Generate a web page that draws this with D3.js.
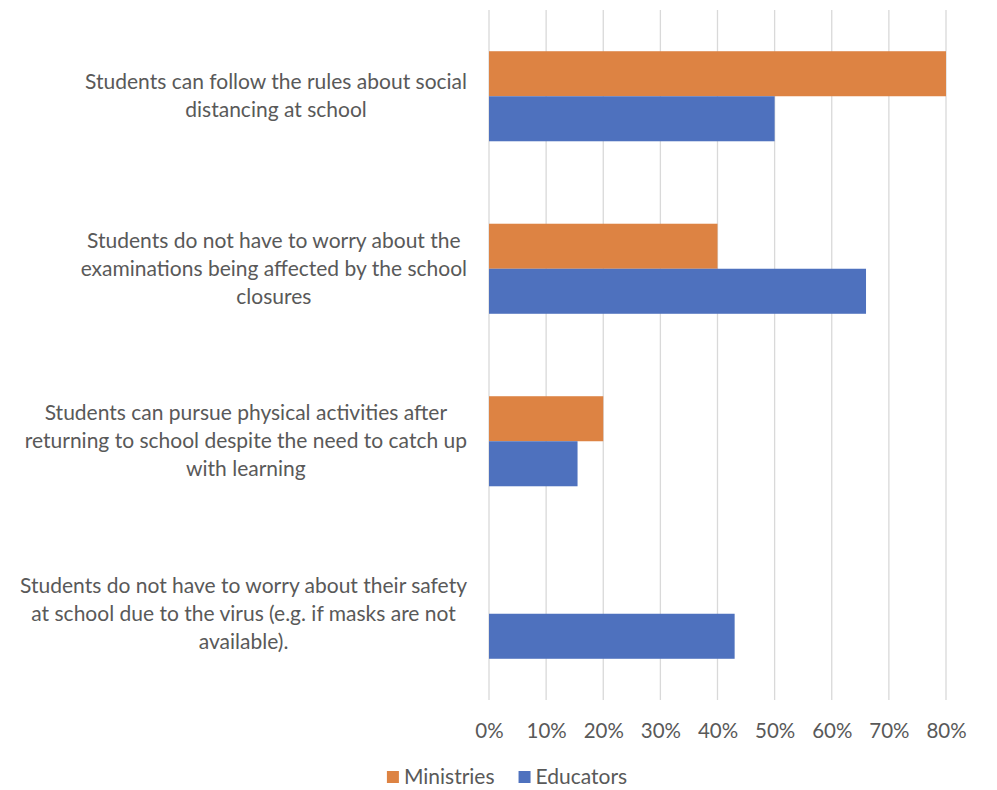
<!DOCTYPE html>
<html>
<head>
<meta charset="utf-8">
<script src="https://cdn.jsdelivr.net/npm/d3@7"></script>
<style>
  html, body { margin: 0; padding: 0; background: #fff; }
  svg { display: block; }
  text { font-family: Lato, "Open Sans", sans-serif; fill: #595959; }
</style>
</head>
<body>
<svg id="chart" width="997" height="790"></svg>
<script>
// Survey statements, wrapped as they appear on the axis
const categories = [
  ["Students can follow the rules about social", "distancing at school"],
  ["Students do not have to worry about the", "examinations being affected by the school", "closures"],
  ["Students can pursue physical activities after", "returning to school despite the need to catch up", "with learning"],
  ["Students do not have to worry about their safety", "at school due to the virus (e.g. if masks are not", "available)."]
];
const seriesNames = ["Ministries", "Educators"];
const ministries = [0.80, 0.40, 0.20, 0.00];
const educators  = [0.50, 0.66, 0.155, 0.43];
const xTicks = [0, 0.1, 0.2, 0.3, 0.4, 0.5, 0.6, 0.7, 0.8];

const colors = { Ministries: "#DD8343", Educators: "#4E71BE" };

const W = 997, H = 790;
const margin = { top: 10, right: 51, bottom: 90, left: 489 };
const svg = d3.select("#chart");

const x = d3.scaleLinear()
  .domain([0, 0.8])
  .range([margin.left, W - margin.right]);

const y = d3.scaleBand()
  .domain(d3.range(categories.length))
  .range([margin.top, H - margin.bottom])
  .paddingInner(0.478)
  .paddingOuter(0.239);

const ySub = d3.scaleBand()
  .domain(seriesNames)
  .range([0, y.bandwidth()]);

// Vertical gridlines
svg.append("g")
  .selectAll("line")
  .data(xTicks)
  .join("line")
  .attr("x1", d => x(d)).attr("x2", d => x(d))
  .attr("y1", margin.top).attr("y2", H - margin.bottom)
  .attr("stroke", "#d9d9d9")
  .attr("stroke-width", 1.3);

// Bars
const rows = categories.map((c, i) => ({
  i,
  values: [
    { name: "Ministries", value: ministries[i] },
    { name: "Educators", value: educators[i] }
  ]
}));

svg.append("g")
  .selectAll("g")
  .data(rows)
  .join("g")
  .attr("transform", d => `translate(0,${y(d.i)})`)
  .selectAll("rect")
  .data(d => d.values)
  .join("rect")
  .attr("x", x(0))
  .attr("y", d => ySub(d.name))
  .attr("width", d => x(d.value) - x(0))
  .attr("height", ySub.bandwidth())
  .attr("fill", d => colors[d.name]);

// X axis tick labels
const xAxis = d3.axisBottom(x)
  .tickValues(xTicks)
  .tickFormat(d3.format(".0%"))
  .tickSize(0)
  .tickPadding(0);

const gx = svg.append("g")
  .attr("transform", `translate(0,${H - margin.bottom})`)
  .call(xAxis);
gx.select(".domain").remove();
gx.selectAll("text")
  .attr("dy", null)
  .attr("y", 38)
  .style("font-size", "20.5px")
  .style("fill", "#595959")
  .style("font-family", "Lato, 'Open Sans', sans-serif");

// Category labels: each block right-aligned, lines centred within it
const labelRight = 467;
const lineH = 28;
const labelG = svg.append("g");
rows.forEach(r => {
  const lines = categories[r.i];
  const g = labelG.append("g");
  const texts = g.selectAll("text")
    .data(lines)
    .join("text")
    .style("font-size", "21px")
    .attr("text-anchor", "middle")
    .text(d => d);
  const maxW = d3.max(texts.nodes(), n => n.getComputedTextLength());
  const cx = labelRight - maxW / 2;
  const cy = y(r.i) + y.bandwidth() / 2;
  const n = lines.length;
  texts
    .attr("x", cx)
    .attr("y", (d, k) => cy + (k - (n - 1) / 2) * lineH + 7);
});

// Legend
const legend = svg.append("g").attr("transform", `translate(0,${H - 6})`);
const items = legend.selectAll("g")
  .data(seriesNames)
  .join("g");
items.append("rect")
  .attr("width", 12).attr("height", 12)
  .attr("y", -13)
  .attr("fill", d => colors[d]);
items.append("text")
  .attr("x", 17)
  .style("font-size", "21px")
  .text(d => d);
let offset = 0;
const widths = items.nodes().map(n => 17 + n.querySelector("text").getComputedTextLength());
const gap = 24;
const total = d3.sum(widths) + gap * (widths.length - 1);
let startX = 507 - total / 2;
items.attr("transform", (d, k) => {
  const tx = startX + offset;
  offset += widths[k] + gap;
  return `translate(${tx},0)`;
});
</script>
</body>
</html>
